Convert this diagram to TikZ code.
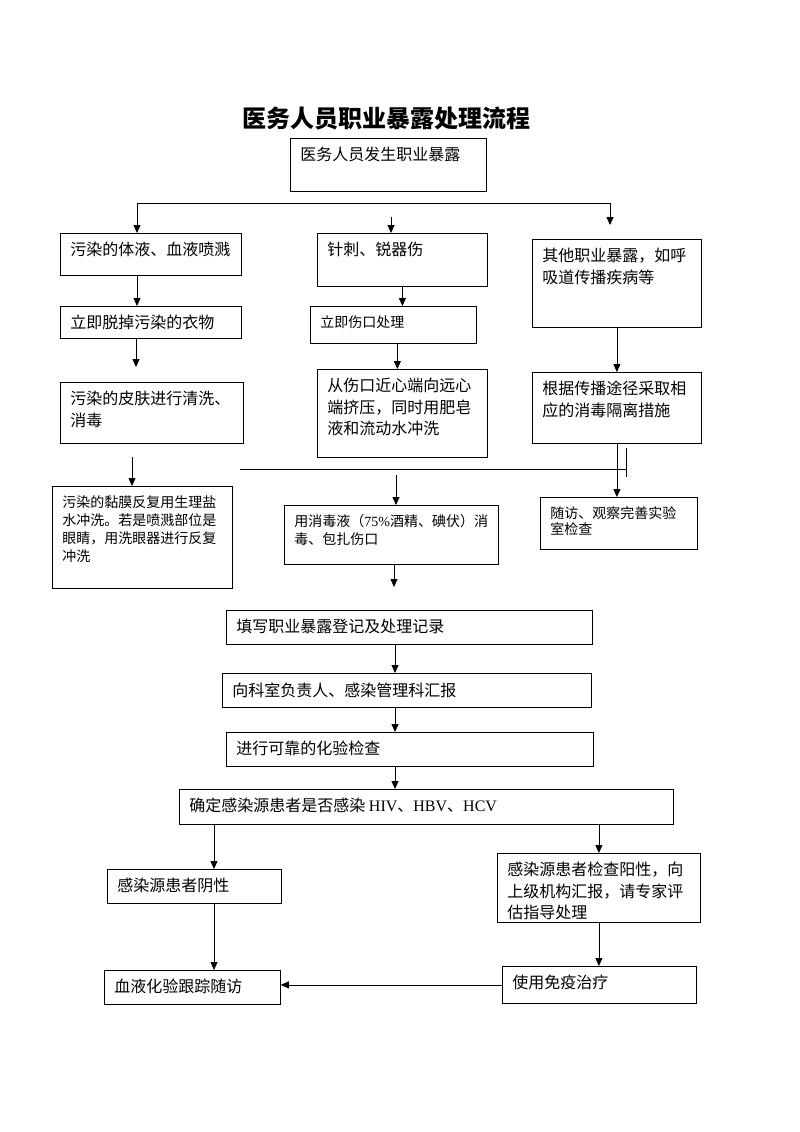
\documentclass[tikz,border=0pt]{standalone}
\usepackage{fontspec}
\setmainfont{Liberation Serif}
\newfontfamily\cjk{Noto Sans CJK SC}
\usetikzlibrary{arrows.meta}
\newcommand{\boxtxt}[3]{\parbox[t][#2pt][t]{#1pt}{#3}}
\newcommand{\lat}[1]{{\rmfamily #1}}
\tikzset{
	stepbox/.style={draw, line width=0.8pt, anchor=north west, inner xsep=10pt, inner ysep=9pt,
		font=\cjk\fontsize{16}{21.5}\selectfont},
	smallbox/.style={stepbox, font=\cjk\fontsize{14}{18}\selectfont},
	arr/.style={-{Triangle[length=8pt,width=7pt]}, line width=0.8pt},
	conn/.style={line width=0.8pt}
}
\begin{document}
\begin{tikzpicture}[x=1pt, y=-1pt]
		\useasboundingbox (0,0) rectangle (800,1132);
		\node[font=\cjk\bfseries\fontsize{24}{28}\selectfont] (title) at (386,118) {医务人员职业暴露处理流程};
		\node[stepbox] (expo) at (290,138) {\boxtxt{176}{35}{医务人员发生职业暴露}};
		\node[stepbox] (a1) at (60,233) {\boxtxt{161}{24}{污染的体液、血液喷溅}};
		\node[stepbox] (a2) at (60,306) {\boxtxt{161}{14}{立即脱掉污染的衣物}};
		\node[stepbox] (a3) at (60,382) {\boxtxt{163}{43}{污染的皮肤进行清洗、\\消毒}};
		\node[smallbox] (a4) at (52,486) {\boxtxt{160}{84}{污染的黏膜反复用生理盐\\水冲洗。若是喷溅部位是\\眼睛，用洗眼器进行反复\\冲洗}};
		\node[stepbox] (b1) at (317,233) {\boxtxt{150}{35}{针刺、锐器伤}};
		\node[smallbox] (b2) at (310,306) {\boxtxt{146}{19}{立即伤口处理}};
		\node[stepbox] (b3) at (317,369) {\boxtxt{150}{70}{从伤口近心端向远心\\端挤压，同时用肥皂\\液和流动水冲洗}};
		\node[smallbox] (b4) at (284,505) {\boxtxt{194}{41}{用消毒液（\lat{75\%}酒精、碘伏）消\\毒、包扎伤口}};
		\node[stepbox] (c1) at (532,239) {\boxtxt{149}{70}{其他职业暴露，如呼\\吸道传播疾病等}};
		\node[stepbox] (c2) at (532,372) {\boxtxt{149}{53}{根据传播途径采取相\\应的消毒隔离措施}};
		\node[smallbox, font=\cjk\fontsize{14}{16.7}\selectfont] (c3) at (540,497) {\boxtxt{137}{34}{随访、观察完善实验\\室检查}};
		\node[stepbox] (d1) at (226,610) {\boxtxt{346}{16}{填写职业暴露登记及处理记录}};
		\node[stepbox] (d2) at (222,673) {\boxtxt{349}{16}{向科室负责人、感染管理科汇报}};
		\node[stepbox] (d3) at (226,732) {\boxtxt{347}{16}{进行可靠的化验检查}};
		\node[stepbox] (d4) at (179,789) {\boxtxt{474}{17}{确定感染源患者是否感染 \lat{HIV}、\lat{HBV}、\lat{HCV}}};
		\node[stepbox] (e1) at (107,869) {\boxtxt{154}{16}{感染源患者阴性}};
		\node[stepbox] (f1) at (497,853) {\boxtxt{183}{51}{感染源患者检查阳性，向\\上级机构汇报，请专家评\\估指导处理}};
		\node[stepbox] (e2) at (104,970) {\boxtxt{156}{16}{血液化验跟踪随访}};
		\node[stepbox] (f2) at (502,966) {\boxtxt{174}{19}{使用免疫治疗}};
		\coordinate (hl) at (137,203);
		\coordinate (hr) at (610,203);
		\coordinate (rend) at (610,225);
		\coordinate (mtop) at (391,217);
		\coordinate (a3in) at (136,367);
		\coordinate (a4in) at (132,457);
		\coordinate (ml) at (240,469);
		\coordinate (mr) at (626,469);
		\coordinate (b4in) at (396,475);
		\coordinate (b4out) at (394,587);
		\coordinate (dmid) at (395,0);
		\coordinate (xl) at (214,0);
		\draw[arr] (hr) -- (hl) -- (hl |- a1.north);
		\draw[arr] (hr) -- (rend);
		\draw[arr] (mtop) -- (mtop |- b1.north);
		\draw[arr] (a1.south -| hl) -- (a2.north -| hl);
		\draw[arr] (a2.south -| a3in) -- (a3in);
		\draw[arr] (a4in) -- (a4in |- a4.north);
		\draw[arr] (b1.south) -- (b1.south |- b2.north);
		\draw[arr] ([xshift=4pt]b2.south) -- ([xshift=4pt]b2.south |- b3.north);
		\draw[arr] (c1.south) -- (c1.south |- c2.north);
		\draw[arr] (c2.south) -- (c2.south |- c3.north);
		\draw[conn] (ml) -- (mr);
		\draw[conn] ([yshift=21pt]mr) -- ([yshift=-8pt]mr);
		\draw[arr] (b4in) -- (b4in |- b4.north);
		\draw[arr] (b4.south -| b4out) -- (b4out);
		\draw[arr] (d1.south -| dmid) -- (d2.north -| dmid);
		\draw[arr] (d2.south -| dmid) -- (d3.north -| dmid);
		\draw[arr] (d3.south -| dmid) -- (d4.north -| dmid);
		\draw[arr] (d4.south -| xl) -- (e1.north -| xl);
		\draw[arr] (e1.south -| xl) -- (e2.north -| xl);
		\draw[arr] (d4.south -| f1.north) -- (f1.north);
		\draw[arr] (f1.south) -- (f1.south |- f2.north);
		\draw[arr] (f2.west) -- (f2.west -| e2.east);
	\end{tikzpicture}
\end{document}
